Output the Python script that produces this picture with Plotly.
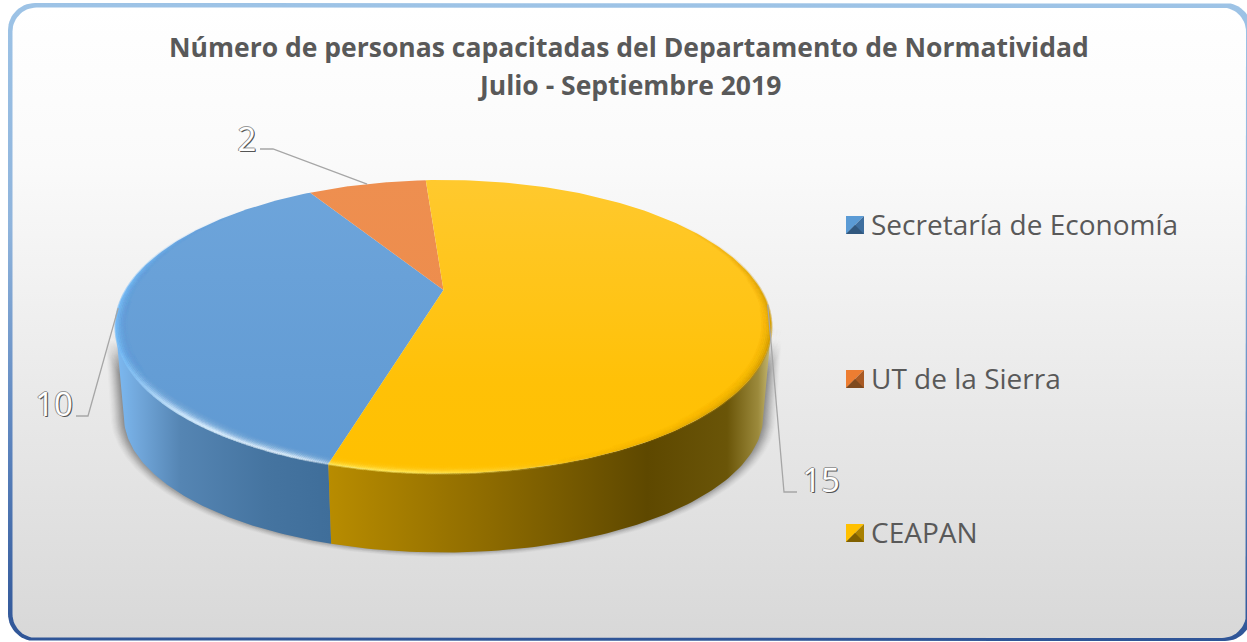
import numpy as np
import plotly.graph_objects as go

# ---- data ----
categories = ["Secretaría de Economía", "UT de la Sierra", "CEAPAN"]
values = [10, 2, 15]
title_lines = ["Número de personas capacitadas del Departamento de Normatividad",
               "Julio - Septiembre 2019"]

# ---- styles ----
TOP_GRAD = [[[0, "#6EA5DB"], [1, "#5F99D2"]], [[0, "#EE8F50"], [1, "#EC8A48"]], [[0, "#FFC92E"], [0.7, "#FFC107"], [1, "#FFC000"]]]
SWATCH = [("#5B9BD5", "#3E6E9E", "#31587F"), ("#ED7D31", "#A85A24", "#7F4A1E"), ("#FFC000", "#A88000", "#806000")]
WALL = {
    0: [[0, "#7DBAF2"], [0.1, "#72A8DC"], [0.3, "#5585B3"], [0.7, "#4574A0"], [1, "#3F6E9A"]],
    2: [[0, "#B88C00"], [0.35, "#8F6C00"], [0.72, "#5E4800"], [0.9, "#6A5508"], [0.97, "#9C8A3C"], [1, "#C9BC78"]],
}
BEVEL = {
    0: [(218, 15, "#F0FAFF", 0.8), (202, 7, "#F0FAFF", 0.5), (252, 32, "#78BEFA", 0.42)],
    1: [],
    2: [(188, 20, "#FFEE66", 0.6), (120, 36, "#C89400", 0.3)],
}

# ---- geometry: pixel canvas, perspective disc ----
W, H = 1247, 642
CX, CY, A, B, P = 443.5, 290.0, 317.5, 137.5, 0.25
SBX, SBY, YB = 0.975, 0.93, 382.0
START = 196.0


def rim(t, r=1.0):
    u, v = r * np.sin(np.radians(t)), r * np.cos(np.radians(t))
    w = 1 + P * v
    return CX + A * u / w, CY - B * v / w


def rim_b(t, sx=1.0, sy=1.0, dy=0.0):
    u, v = np.sin(np.radians(t)), np.cos(np.radians(t))
    w = 1 + P * v
    return CX + SBX * sx * A * u / w, YB + dy - SBY * sy * B * v / w


def rrect(x0, y0, x1, y1, rad):
    a = np.linspace(0, 90, 16)
    c, s = rad * np.cos(np.radians(a)), rad * np.sin(np.radians(a))
    xs = np.r_[x0 + rad - c, x1 - rad + s, x1 - rad + c, x0 + rad - s]
    ys = np.r_[y0 + rad - s, y0 + rad - c, y1 - rad + s, y1 - rad + c]
    return np.r_[xs, xs[0]], np.r_[ys, ys[0]]


fig = go.Figure()


def poly(x, y, color=None, grad=None):
    kw = dict(fillgradient=grad) if grad else dict(fillcolor=color)
    fig.add_trace(go.Scatter(x=x, y=y, mode="lines", fill="toself", line=dict(width=0),
                             hoverinfo="skip", showlegend=False, **kw))


# panel
x, y = rrect(8, 3, 1252, 641, 27)
poly(x, y, grad=dict(type="vertical", start=3, stop=641,
                     colorscale=[[0, "#9DC3E6"], [0.35, "#8FB4DC"], [0.7, "#5A82BC"], [1, "#2F5597"]]))
x, y = rrect(12.5, 7.5, 1246, 638, 24)
poly(x, y, grad=dict(type="vertical", start=7, stop=638,
                     colorscale=[[0, "#FFFFFF"], [0.25, "#FAFAFA"], [0.6, "#EAEAEA"], [1, "#D8D8D8"]]))

# slice angles from values
total = sum(values)
edges = START + np.cumsum([0] + values) * 360.0 / total
mids = (edges[:-1] + edges[1:]) / 2

# visible arc of the side wall: between the silhouette tangents of the disc
FRONT0 = 180.0 - np.degrees(np.arccos(P))
FRONT1 = 180.0 + np.degrees(np.arccos(P))

# shadow
ts = np.linspace(FRONT0, FRONT1, 160)
for i in range(1, 13):
    xb, yb = rim_b(ts, sx=1 + 0.0034 * (13 - i), sy=1 + 0.0032 * (13 - i), dy=-2)
    xt, yt = rim(ts, 1 + 0.0026 * (13 - i))
    poly(np.r_[xb, xt[::-1]], np.r_[yb, yt[::-1]], color=f"rgba(50,50,50,{0.012 + 0.006 * i:.3f})")

# walls (front part of each slice)
for k, (e0, e1) in enumerate(zip(edges[:-1], edges[1:])):
    for shift in (0, -360):
        a0, a1 = max(e0 + shift, FRONT0), min(e1 + shift, FRONT1)
        if a1 > a0 and k in WALL:
            t = np.linspace(a0, a1, 90)
            xt, yt = rim(t)
            xb, yb = rim_b(t)
            xs, ys = np.r_[xt, xb[::-1]], np.r_[yt, yb[::-1]]
            poly(xs, ys, grad=dict(type="horizontal", start=float(xs.min()), stop=float(xs.max()),
                                   colorscale=WALL[k]))

# top faces
for k, (e0, e1) in enumerate(zip(edges[:-1], edges[1:])):
    t = np.linspace(e0, e1, 160)
    xt, yt = rim(t)
    poly(np.r_[CX, xt, CX], np.r_[CY, yt, CY],
         grad=dict(type="vertical", start=180, stop=470, colorscale=TOP_GRAD[k]))

# rim bevel as soft dots along each slice's edge
for k, (e0, e1) in enumerate(zip(edges[:-1], edges[1:])):
    if not BEVEL[k]:
        continue
    px, py, pc = [], [], []
    t = np.arange(e0, e1, 0.3)
    for r in np.linspace(0.999, 0.95, 11):
        fall = np.exp(-(1 - r) / 0.009)
        xr, yr = rim(t, r)
        for tc, wd, col, a in BEVEL[k]:
            d = (t - tc + 180) % 360 - 180
            al = a * fall * np.exp(-(d / wd) ** 2)
            keep = al > 0.012
            rgb = tuple(int(col[i:i + 2], 16) for i in (1, 3, 5))
            px += list(xr[keep])
            py += list(yr[keep])
            pc += [f"rgba({rgb[0]},{rgb[1]},{rgb[2]},{q:.3f})" for q in al[keep]]
    fig.add_trace(go.Scatter(x=px, y=py, mode="markers", hoverinfo="skip", showlegend=False,
                             marker=dict(size=3.0, color=pc, line=dict(width=0))))

# leader lines and value labels
LABEL_POS = [(54, 408, "middle center"), (247, 143, "middle center"), (821, 484, "middle center")]
LEADER_ELBOW = [[(76, 416), (88, 416)], [(260, 149), (273, 149)], [(797, 492), (784, 492)]]
for k in range(3):
    ax, ay = rim(mids[k])
    pts = LEADER_ELBOW[k] + [(float(ax), float(ay))]
    fig.add_trace(go.Scatter(x=[p[0] for p in pts], y=[p[1] for p in pts], mode="lines",
                             line=dict(color="#A6A6A6", width=1.3), hoverinfo="skip", showlegend=False))
    lx, ly, pos = LABEL_POS[k]
    fig.add_trace(go.Scatter(x=[lx], y=[ly], mode="text", text=[str(values[k])], textposition=pos,
                             hoverinfo="skip", showlegend=False,
                             textfont=dict(family="Open Sans", size=33, color="#FFFFFF",
                                           shadow="1px 1px 0 #555, -1px 0 0 #8a8a8a, 0 -1px 0 #9a9a9a, 1px 0 0 #777")))

# legend
LEG_X, LEG_Y, SW = 846, [225, 379, 533], 18
for k in range(3):
    cy = LEG_Y[k]
    x0, x1, y0, y1 = LEG_X, LEG_X + SW, cy - SW / 2, cy + SW / 2
    mx, my = (x0 + x1) / 2, cy
    c1, c2, c3 = SWATCH[k]
    poly([x0, x1, x0, x0], [y0, y0, y1, y0], color=c1)
    poly([x1, x1, x0, x1], [y0, y1, y1, y0], color=c2)
    poly([x0, mx, x1, x0], [y1, my, y1, y1], color=c3)
    fig.add_trace(go.Scatter(x=[871], y=[cy + 3], mode="text", text=[categories[k]], textposition="middle right",
                             hoverinfo="skip", showlegend=False,
                             textfont=dict(family="Open Sans", size=28, color="#595959")))

fig.update_layout(
    width=W, height=H, margin=dict(l=0, r=0, t=0, b=0), autosize=False,
    paper_bgcolor="white", plot_bgcolor="rgba(0,0,0,0)", showlegend=False,
    xaxis=dict(range=[0, W], visible=False, fixedrange=True),
    yaxis=dict(range=[H, 0], visible=False, fixedrange=True),
    annotations=[
        dict(x=629, y=yy, xref="x", yref="y", text=f"<b>{s}</b>", showarrow=False,
             font=dict(family="Open Sans", size=26.5, color="#595959"))
        for s, yy in zip(title_lines, [47, 85])
    ],
)
fig.write_html("out.html", config=dict(displayModeBar=False),
               post_script="document.body.style.margin='0';document.documentElement.style.overflow='hidden';")
